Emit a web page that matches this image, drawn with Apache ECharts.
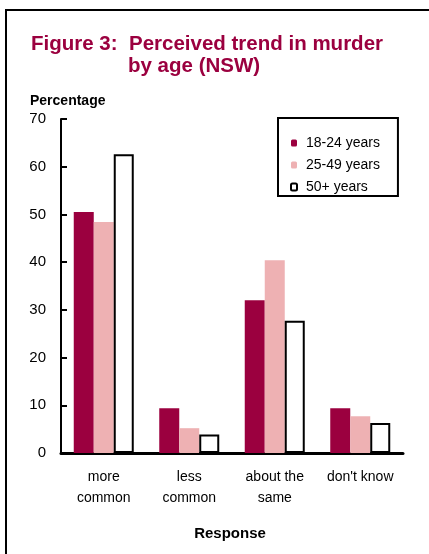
<!DOCTYPE html>
<html>
<head>
<meta charset="utf-8">
<script src="https://cdn.jsdelivr.net/npm/echarts@6/dist/echarts.min.js"></script>
<style>
  html, body { margin: 0; padding: 0; background: #fff; }
  #chart { width: 429px; height: 554px; }
</style>
</head>
<body>
<div id="chart"></div>
<script>
// data
var responses = ["more\ncommon", "less\ncommon", "about the\nsame", "don't know"];
var ageGroups = ["18-24 years", "25-49 years", "50+ years"];
var age18to24 = [50.5, 9.4, 32.0, 9.4];
var age25to49 = [48.4, 5.2, 40.4, 7.7];
var age50plus = [62.6, 3.9, 27.7, 6.3];
var yTicks = { min: 0, max: 70, interval: 10 };

var crimson = "#9b003f";
var pink = "#eeb1b3";
var font = "'Liberation Sans', Arial, sans-serif";

var myChart = echarts.init(document.getElementById("chart"));

var option = {
  animation: false,
  backgroundColor: "#fff",
  textStyle: { fontFamily: font },
  title: [
    {
      text: "Figure 3:  Perceived trend in murder",
      left: 31, top: 34,
      padding: 0,
      textStyle: { color: crimson, fontSize: 20.5, fontWeight: "bold", fontFamily: font }
    },
    {
      text: "by age (NSW)",
      left: 128, top: 56,
      padding: 0,
      textStyle: { color: crimson, fontSize: 20.5, fontWeight: "bold", fontFamily: font }
    },
    {
      text: "Percentage",
      left: 30, top: 94,
      padding: 0,
      textStyle: { color: "#000", fontSize: 14, fontWeight: "bold", fontFamily: font }
    },
    {
      text: "Response",
      left: 230, top: 526,
      textAlign: "center",
      padding: 0,
      textStyle: { color: "#000", fontSize: 15, fontWeight: "bold", fontFamily: font }
    }
  ],
  // outer frame of the figure (left and top edges only show)
  graphic: [
    {
      type: "rect",
      shape: { x: 6, y: 10, width: 600, height: 700 },
      style: { fill: "none", stroke: "#000", lineWidth: 2 },
      silent: true
    }
  ],
  legend: {
    orient: "vertical",
    left: 278, top: 118,
    width: 122,
    padding: [18, 18, 2, 12],
    itemGap: 8,
    itemWidth: 6,
    itemHeight: 7,
    borderColor: "#000",
    borderWidth: 2,
    textStyle: { fontSize: 14, color: "#000", fontFamily: font, padding: [0, 0, 0, 4] },
    data: [
      { name: ageGroups[0], itemStyle: { borderWidth: 0 } },
      { name: ageGroups[1], itemStyle: { borderWidth: 0 } },
      { name: ageGroups[2], itemStyle: { color: "#fff", borderColor: "#000", borderWidth: 2 } }
    ]
  },
  grid: { left: 61, right: 26, top: 119, bottom: 101, containLabel: false },
  xAxis: {
    type: "category",
    data: responses,
    axisLine: { lineStyle: { color: "#000", width: 3 } },
    axisTick: { show: false },
    axisLabel: { color: "#000", fontSize: 14, lineHeight: 21, margin: 14, interval: 0, fontFamily: font }
  },
  yAxis: {
    type: "value",
    min: yTicks.min, max: yTicks.max, interval: yTicks.interval,
    splitLine: { show: false },
    axisLine: { show: true, lineStyle: { color: "#000", width: 2 } },
    axisTick: { show: true, inside: true, length: 6, lineStyle: { color: "#000", width: 2 } },
    axisLabel: { color: "#000", fontSize: 15, margin: 15, padding: [6, 0, 0, 0], fontFamily: font }
  },
  series: [
    {
      name: ageGroups[0], type: "bar", data: age18to24,
      barWidth: 20, barGap: "0%",
      itemStyle: { color: crimson }
    },
    {
      name: ageGroups[1], type: "bar", data: age25to49,
      barWidth: 20, barGap: "0%",
      itemStyle: { color: pink }
    },
    {
      name: ageGroups[2], type: "bar", data: age50plus,
      barWidth: 20, barGap: "0%",
      itemStyle: { color: "#fff", borderColor: "#000", borderWidth: 2 }
    }
  ]
};

myChart.setOption(option);
</script>
</body>
</html>
